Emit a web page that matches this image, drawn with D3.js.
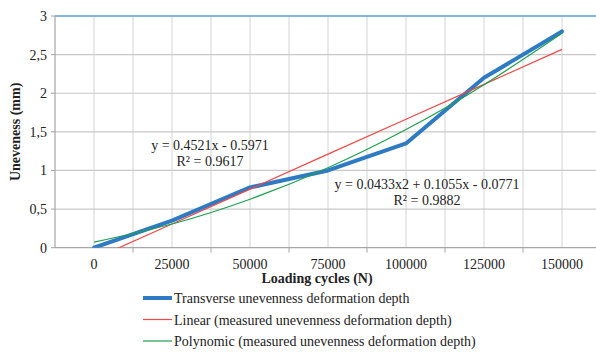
<!DOCTYPE html>
<html>
<head>
<meta charset="utf-8">
<script src="https://cdn.jsdelivr.net/npm/d3@7"></script>
<style>
body { margin: 0; background: #fff; overflow: hidden; }
</style>
</head>
<body>
<script>
let width = 596
let height = 352

// data
let cycles = ["0", "25000", "50000", "75000", "100000", "125000", "150000"]
let measured = [0, 0.35, 0.78, 1.0, 1.35, 2.2, 2.8]
let linearFit = [-0.145, 0.307, 0.759, 1.211, 1.663, 2.115, 2.568]
let polyFit = [0.072, 0.307, 0.628, 1.036, 1.530, 2.111, 2.778]
let yTicks = [0, 0.5, 1, 1.5, 2, 2.5, 3]
let yTickLabels = ["0", "0,5", "1", "1,5", "2", "2,5", "3"]
let legendNames = ["Transverse unevenness deformation depth",
  "Linear (measured unevenness deformation depth)",
  "Polynomic (measured unevenness deformation depth)"]
let linearLabel = ["y = 0.4521x - 0.5971", "R² = 0.9617"]
let polyLabel = ["y = 0.0433x2 + 0.1055x - 0.0771", "R² = 0.9882"]

let font = "'Liberation Serif', 'Times New Roman', serif"
let plotL = 55, plotR = 601, plotT = 16, plotB = 247.7

let svg = d3.select("body").append("svg")
  .attr("width", width)
  .attr("height", height)
  .attr("font-family", font)

let x = d3.scaleBand().domain(cycles).range([plotL, plotR]).padding(0)
let bw = x.bandwidth()
let cx = d => x(d) + bw / 2
let y = d3.scaleLinear().domain([0, 3]).range([plotB, plotT])

// grid: vertical lines at band centres and band edges
let vx = []
cycles.forEach(c => { vx.push(x(c)); vx.push(cx(c)) })
vx.push(plotR)
svg.append("g").selectAll("line").data(vx.slice(1)).join("line")
  .attr("x1", d => d).attr("x2", d => d)
  .attr("y1", plotT).attr("y2", plotB)
  .attr("stroke", "#d4d4d4").attr("stroke-width", 1)

svg.append("g").selectAll("line").data(yTicks.slice(1, -1)).join("line")
  .attr("x1", plotL).attr("x2", plotR)
  .attr("y1", d => y(d)).attr("y2", d => y(d))
  .attr("stroke", "#c8c8c8").attr("stroke-width", 1.2)

// top border (blue)
svg.append("line")
  .attr("x1", plotL).attr("x2", plotR).attr("y1", y(3)).attr("y2", y(3))
  .attr("stroke", "#5b9bd5").attr("stroke-width", 1.5)

// axes
svg.append("line").attr("x1", plotL).attr("x2", plotL).attr("y1", plotT).attr("y2", plotB)
  .attr("stroke", "#a6a6a6").attr("stroke-width", 1.2)
svg.append("line").attr("x1", plotL).attr("x2", plotR).attr("y1", plotB).attr("y2", plotB)
  .attr("stroke", "#a6a6a6").attr("stroke-width", 1.2)

svg.append("g").selectAll("line").data(yTicks).join("line")
  .attr("x1", plotL - 4).attr("x2", plotL)
  .attr("y1", d => y(d)).attr("y2", d => y(d))
  .attr("stroke", "#a6a6a6")
svg.append("g").selectAll("text").data(yTicks).join("text")
  .attr("x", 47).attr("y", d => y(d) + 5)
  .attr("text-anchor", "end").attr("font-size", 14).attr("fill", "#222")
  .text((d, i) => yTickLabels[i])

svg.append("g").selectAll("line").data(cycles.slice(1)).join("line")
  .attr("x1", d => x(d)).attr("x2", d => x(d))
  .attr("y1", plotB).attr("y2", plotB + 5)
  .attr("stroke", "#a6a6a6")
svg.append("g").selectAll("text").data(cycles).join("text")
  .attr("x", d => cx(d)).attr("y", 269)
  .attr("text-anchor", "middle").attr("font-size", 14).attr("fill", "#222")
  .text(d => d)

// titles
svg.append("text").attr("x", (plotL + plotR) / 2 - 11).attr("y", 283)
  .attr("text-anchor", "middle").attr("font-size", 14).attr("font-weight", "bold")
  .attr("fill", "#222")
  .text("Loading cycles (N)")
svg.append("text").attr("transform", "translate(20," + ((plotT + plotB) / 2) + ") rotate(-90)")
  .attr("text-anchor", "middle").attr("font-size", 14).attr("font-weight", "bold")
  .attr("fill", "#222")
  .text("Uneveness (mm)")

// series
svg.append("clipPath").attr("id", "plot").append("rect")
  .attr("x", plotL).attr("y", plotT).attr("width", plotR - plotL).attr("height", plotB - plotT)

let plot = svg.append("g").attr("clip-path", "url(#plot)")
let line = d3.line().x((d, i) => cx(cycles[i])).y(d => y(d))

plot.append("path").datum(measured).attr("d", line)
  .attr("fill", "none").attr("stroke", "#2e7bc4").attr("stroke-width", 4)
  .attr("stroke-linejoin", "round").attr("stroke-linecap", "round")
plot.append("path").datum(linearFit).attr("d", line)
  .attr("fill", "none").attr("stroke", "#f04848").attr("stroke-width", 1.2)
plot.append("path").datum(polyFit).attr("d", line.curve(d3.curveNatural))
  .attr("fill", "none").attr("stroke", "#1ea050").attr("stroke-width", 1.2)

// trendline labels
svg.append("g").selectAll("text").data(linearLabel).join("text")
  .attr("x", 210).attr("y", (d, i) => 150 + i * 16)
  .attr("text-anchor", "middle").attr("font-size", 14).attr("fill", "#222")
  .text(d => d)
svg.append("g").selectAll("text").data(polyLabel).join("text")
  .attr("x", 427).attr("y", (d, i) => 189 + i * 16)
  .attr("text-anchor", "middle").attr("font-size", 14).attr("fill", "#222")
  .text(d => d)

// legend
let legColors = ["#2e7bc4", "#f04848", "#1ea050"]
let legWidths = [4, 1.2, 1.2]
let leg = svg.append("g").selectAll("g").data(legendNames).join("g")
  .attr("transform", (d, i) => "translate(143," + (298 + i * 21.5) + ")")
leg.append("line").attr("x1", 0).attr("x2", 29).attr("y1", 0).attr("y2", 0)
  .attr("stroke", (d, i) => legColors[i]).attr("stroke-width", (d, i) => legWidths[i])
leg.append("text").attr("x", 31).attr("y", 5).attr("font-size", 14).attr("fill", "#222")
  .text(d => d)
</script>
</body>
</html>
